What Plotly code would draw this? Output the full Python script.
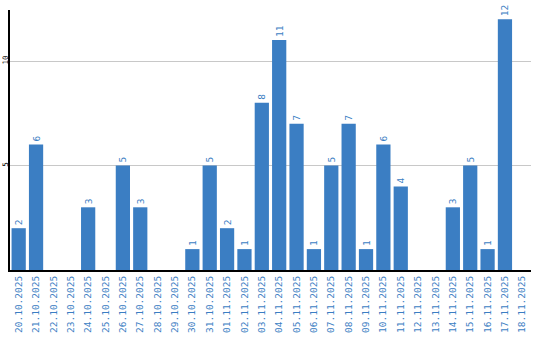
import plotly.graph_objects as go

dates = ["20.10.2025","21.10.2025","22.10.2025","23.10.2025","24.10.2025","25.10.2025",
         "26.10.2025","27.10.2025","28.10.2025","29.10.2025","30.10.2025","31.10.2025",
         "01.11.2025","02.11.2025","03.11.2025","04.11.2025","05.11.2025","06.11.2025",
         "07.11.2025","08.11.2025","09.11.2025","10.11.2025","11.11.2025","12.11.2025",
         "13.11.2025","14.11.2025","15.11.2025","16.11.2025","17.11.2025","18.11.2025"]
values = [2,6,0,0,3,0,5,3,0,0,1,5,2,1,8,11,7,1,5,7,1,6,4,0,0,3,5,1,12,0]
y_ticks = [5, 10]

blue = "#3b7ec3"
labels = [str(v) if v else "" for v in values]

fig = go.Figure(go.Bar(
    x=dates, y=values, marker_color=blue, marker_line_width=0,
    text=labels, textposition="outside", textangle=-90,
    textfont=dict(family="DejaVu Sans Mono", size=9.5, color=blue),
    cliponaxis=False,
))
fig.update_layout(
    width=540, height=340, margin=dict(l=10, r=9, t=10, b=70),
    plot_bgcolor="white", paper_bgcolor="white", bargap=0.18,
    showlegend=False,
)
fig.update_xaxes(tickangle=-90, tickfont=dict(family="DejaVu Sans Mono", size=9.5, color=blue),
                 showline=True, linecolor="black", linewidth=2, ticks="", showgrid=False,
                 automargin=False)
fig.update_yaxes(range=[0, 12.44], tickvals=y_ticks, tickangle=-90,
                 tickfont=dict(family="DejaVu Sans Mono", size=7.5, color="black"),
                 showline=True, linecolor="black", linewidth=2, gridcolor="#c8c8c8",
                 gridwidth=1, zeroline=False, ticks="", automargin=False, ticklabelstandoff=-3)
fig.write_html("out.html")
